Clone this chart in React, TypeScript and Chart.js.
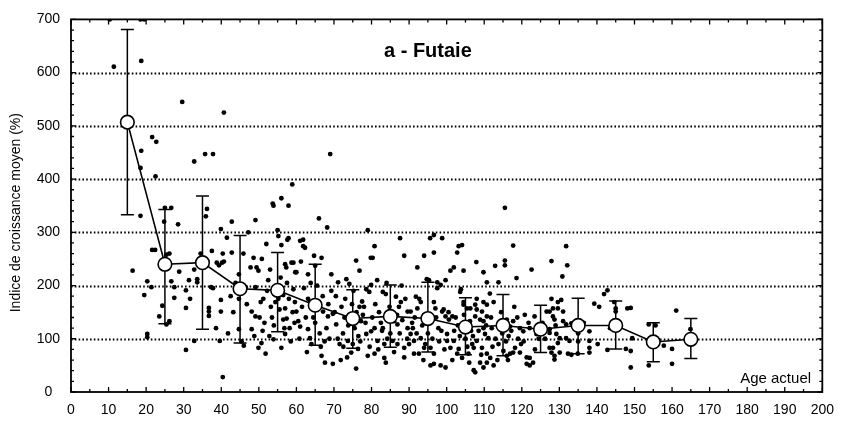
import React, { useEffect, useRef } from "react";
import { Chart, registerables } from "chart.js";

Chart.register(...registerables);

// ---- data ----
const meanAges = [15, 25, 35, 45, 55, 65, 75, 85, 95, 105, 115, 125, 135, 145, 155, 165];
const meanValues = [507, 240, 243, 194, 191, 163, 138, 142, 138, 122, 125, 118, 125, 125, 94, 99];
const errHigh = [681, 343, 368, 294, 262, 240, 192, 201, 206, 177, 183, 163, 176, 171, 130, 138];
const errLow = [333, 128, 118, 92, 113, 88, 82, 84, 75, 70, 68, 74, 72, 81, 57, 63];

const yGridValues = [100, 200, 300, 400, 500, 600];

const chartTitle = "a - Futaie";
const xAxisLabel = "Age actuel";
const yAxisLabel = "Indice de croissance moyen (%)";

const scatterPoints: [number, number][] = [
  // 10-20
  [10.3, 700], [11.4, 611], [18.5, 700], [19.5, 700], [18.7, 622], [18.7, 453], [18.5, 421], [18.5, 331], [16.4, 228], [19.5, 182],
  // 20-30
  [20.3, 208], [21.4, 197], [20.3, 109], [20.3, 103], [21.6, 479], [22.7, 470], [22.5, 405], [21.6, 267], [22.4, 267], [23.5, 142],
  [24.3, 162], [25.4, 258], [26.2, 260], [25.4, 127], [26.2, 133], [25.0, 346], [26.7, 346], [26.7, 208], [27.5, 197], [27.5, 177],
  [28.5, 315], [29.6, 545], [24.8, 320], [28.8, 226],
  // 30-40
  [30.6, 191], [30.6, 158], [30.6, 79], [31.4, 210], [31.7, 175], [32.8, 230], [32.8, 96], [32.8, 433], [33.6, 212], [33.6, 206],
  [35.7, 447], [37.8, 447], [36.2, 344], [35.9, 330], [36.7, 158], [36.7, 151], [36.7, 143], [37.3, 197], [37.8, 195], [37.5, 265],
  [38.6, 120], [39.6, 96], [39.9, 173], [39.9, 151], [39.9, 306], [38.8, 243], [39.4, 238], [34.5, 260],
  // 40-50
  [40.4, 260], [40.2, 243], [40.7, 245], [40.4, 28], [40.7, 525], [42.8, 320], [42.8, 262], [44.7, 221], [44.7, 175], [44.7, 118],
  [46.0, 87], [45.4, 95], [46.5, 197], [47.8, 234], [48.6, 252], [49.4, 234], [49.9, 228], [49.1, 323], [49.1, 197], [48.1, 151],
  [49.1, 142], [48.1, 118], [49.9, 83], [41.5, 290], [42.5, 180], [43.2, 150], [41.8, 110], [47.2, 300], [46.8, 165], [43.8, 205],
  [48.8, 105], [45.9, 260],
  // 50-60
  [50.5, 169], [50.7, 92], [51.8, 72], [52.0, 278], [53.7, 354], [53.9, 350], [55.0, 304], [56.0, 364], [57.9, 350], [58.9, 390],
  [56.0, 276], [57.9, 289], [55.2, 293], [57.6, 286], [58.7, 243], [57.0, 240], [57.3, 234], [59.2, 243], [59.7, 225], [54.4, 169],
  [53.9, 99], [56.0, 83], [57.0, 109], [56.5, 136], [59.2, 193], [55.2, 175], [56.5, 182], [57.0, 157], [57.4, 138], [59.6, 169],
  [50.8, 250], [52.5, 210], [53.5, 140], [51.5, 130], [54.8, 200], [58.2, 120], [52.2, 190], [55.8, 215], [59.0, 150], [53.2, 160],
  [58.5, 95], [51.0, 115], [50.2, 140], [51.2, 175], [52.8, 105], [54.0, 125], [55.5, 155], [56.8, 120], [58.0, 175], [59.5, 130],
  [53.0, 230], [57.5, 205],
  // 60-70
  [60.0, 225], [60.0, 151], [60.5, 133], [61.0, 123], [61.0, 284], [61.8, 286], [62.3, 271], [61.8, 274], [63.1, 221], [63.1, 175],
  [63.6, 169], [63.1, 118], [63.6, 101], [64.0, 90], [64.7, 256], [65.0, 237], [66.7, 252], [66.0, 326], [68.2, 309], [67.1, 151],
  [68.4, 142], [69.7, 147], [68.0, 120], [66.7, 68], [67.6, 55], [69.7, 53], [69.0, 447], [69.3, 221], [62.0, 195], [65.5, 200],
  [67.0, 180], [64.5, 140], [61.5, 160], [68.8, 100], [66.2, 110], [62.8, 75], [69.3, 190], [65.0, 130], [60.8, 100], [62.5, 140],
  [63.8, 205], [65.8, 160], [67.5, 95], [68.5, 165], [61.2, 245], [66.5, 85],
  // 70-80
  [70.6, 127], [71.1, 206], [72.4, 110], [73.3, 212], [74.1, 203], [73.7, 96], [75.0, 90], [74.6, 74], [76.4, 81], [75.9, 44],
  [75.9, 247], [76.8, 228], [77.2, 133], [77.7, 145], [78.6, 109], [79.9, 114], [79.0, 68], [78.6, 193], [79.4, 188], [79.9, 201],
  [79.0, 304], [79.8, 252], [72.0, 160], [73.0, 175], [74.8, 165], [76.0, 150], [77.5, 170], [71.5, 90], [72.8, 140], [75.5, 120],
  [78.0, 160], [70.5, 180], [76.5, 105], [73.8, 125], [71.8, 60], [77.0, 95], [70.2, 150], [71.0, 100], [72.5, 85], [74.0, 145],
  [75.2, 190], [76.8, 160], [78.4, 130], [79.5, 85], [73.5, 65],
  // 80-90
  [80.8, 274], [80.3, 252], [80.8, 120], [80.8, 72], [81.6, 96], [83.4, 90], [83.4, 64], [83.8, 55], [83.0, 188], [83.8, 184],
  [85.6, 96], [86.5, 179], [86.0, 133], [86.9, 127], [86.9, 90], [87.3, 160], [87.8, 169], [87.6, 289], [88.7, 256], [88.7, 83],
  [88.7, 65], [89.6, 151], [89.6, 120], [82.0, 150], [81.5, 210], [84.5, 140], [85.0, 110], [82.5, 130], [84.0, 205], [86.0, 75],
  [81.0, 165], [88.0, 200], [84.8, 160], [87.5, 110], [82.8, 115], [89.5, 100], [80.2, 140], [81.8, 80], [83.0, 120], [84.2, 100],
  [85.5, 150], [86.8, 145], [88.2, 135], [89.0, 175],
  // 90-100
  [90.4, 151], [90.4, 109], [91.3, 96], [91.3, 72], [91.8, 179], [92.2, 234], [92.2, 157], [92.6, 72], [92.7, 175], [93.1, 169],
  [93.1, 101], [94.0, 256], [94.0, 145], [94.0, 83], [94.3, 90], [94.7, 212], [95.3, 210], [95.6, 289], [95.7, 83], [95.7, 50],
  [96.6, 295], [96.6, 262], [96.6, 169], [96.6, 72], [96.6, 53], [97.0, 157], [97.5, 195], [97.5, 206], [98.4, 201], [98.4, 50],
  [98.8, 289], [98.8, 151], [99.2, 155], [99.7, 142], [99.7, 46], [99.7, 210], [90.8, 130], [93.5, 125], [97.8, 120], [95.0, 110],
  [91.5, 140], [98.0, 95], [90.0, 90], [91.0, 120], [92.0, 110], [93.8, 60], [95.2, 135], [96.2, 100], [97.2, 140], [98.6, 115],
  [99.4, 80],
  // 100-110
  [100.1, 109], [100.1, 96], [100.6, 136], [101.0, 228], [101.0, 83], [101.5, 142], [101.9, 234], [101.9, 96], [102.8, 262], [102.8, 72],
  [103.2, 274], [103.2, 81], [103.6, 188], [103.8, 193], [104.1, 276], [104.1, 64], [104.5, 228], [104.5, 169], [104.5, 164], [104.6, 145],
  [105.4, 157], [105.8, 72], [106.2, 133], [106.3, 157], [107.2, 83], [107.2, 41], [107.6, 164], [107.6, 142], [107.6, 37], [107.9, 244],
  [108.0, 155], [108.0, 175], [108.0, 96], [108.9, 136], [108.9, 55], [109.4, 151], [109.4, 83], [109.8, 133], [109.8, 120], [109.8, 169],
  [109.8, 46], [109.8, 225], [102.0, 115], [105.0, 100], [106.5, 115], [103.0, 125], [101.5, 60], [106.8, 90], [100.5, 150], [102.4, 140],
  [103.5, 105], [104.8, 120], [105.5, 85], [106.0, 55], [107.0, 105], [108.5, 115], [109.2, 70],
  // 110-120
  [110.2, 109], [110.7, 55], [110.7, 142], [110.7, 164], [110.7, 72], [110.7, 206], [111.1, 101], [111.6, 64], [112.5, 169], [112.5, 50],
  [112.9, 237], [113.8, 206], [113.8, 90], [115.1, 77], [115.5, 247], [115.5, 238], [115.5, 346], [116.0, 68], [116.0, 136], [116.3, 60],
  [116.9, 123], [116.9, 72], [117.7, 133], [117.7, 74], [117.7, 275], [118.2, 83], [118.6, 214], [119.5, 120], [119.5, 74], [112.0, 120],
  [113.0, 100], [114.5, 150], [111.5, 185], [118.0, 160], [114.0, 130], [119.0, 100], [112.2, 85], [116.5, 105], [110.5, 125], [111.8, 140],
  [113.5, 60], [114.8, 110], [115.8, 95], [117.2, 115], [118.8, 140], [119.8, 90],
  // 120-130
  [120.4, 114], [120.8, 145], [121.3, 65], [121.3, 53], [122.1, 120], [122.1, 64], [122.1, 50], [122.6, 230], [123.0, 55], [123.4, 142],
  [123.9, 109], [126.6, 151], [127.4, 151], [127.4, 111], [127.4, 83], [127.4, 118], [127.9, 175], [127.9, 246], [127.9, 74], [128.3, 157],
  [128.3, 142], [128.3, 83], [128.7, 136], [128.7, 68], [128.7, 61], [129.2, 109], [129.6, 157], [129.6, 92], [129.6, 169], [124.5, 100],
  [125.5, 130], [120.5, 95], [121.8, 130], [123.5, 80], [124.8, 120], [126.2, 100], [129.0, 125],
  // 130-140
  [130.1, 101], [130.1, 74], [130.5, 173], [130.8, 217], [131.0, 151], [131.0, 133], [131.8, 127], [131.8, 274], [131.8, 101], [132.1, 238],
  [132.3, 72], [132.7, 96], [133.2, 129], [133.2, 70], [134.9, 72], [135.0, 110], [135.0, 95], [138.0, 114], [138.0, 96], [138.0, 83],
  [138.0, 74], [139.3, 166], [136.5, 130],
  // 140-150
  [140.2, 90], [140.6, 160], [141.9, 184], [142.8, 191], [142.8, 79], [144.6, 169], [145.0, 157], [145.0, 151], [147.7, 81], [148.1, 157],
  [149.0, 158], [149.0, 77], [149.0, 46], [149.4, 101], [145.0, 135], [143.5, 120],
  // 150-170
  [153.8, 127], [155.6, 125], [153.8, 50], [157.8, 87], [160.0, 81], [160.0, 53], [161.1, 153], [164.9, 118],
];

const FONT = '"Liberation Sans", Arial, Helvetica, sans-serif';
const INK = "#000";

const framePlugin = {
  id: "frameAndDecor",
  beforeDatasetsDraw(chart: any) {
    const { ctx, chartArea: a, scales } = chart;
    const x = scales.x;
    const y = scales.y;
    ctx.save();
    // dotted horizontal grid
    ctx.strokeStyle = INK;
    ctx.lineWidth = 1.8;
    ctx.lineCap = "butt";
    ctx.setLineDash([1.6, 2.2]);
    for (const v of yGridValues) {
      const py = Math.round(y.getPixelForValue(v)) + 0.5;
      ctx.beginPath();
      ctx.moveTo(a.left, py);
      ctx.lineTo(a.right, py);
      ctx.stroke();
    }
    ctx.setLineDash([]);
    // error bars
    ctx.lineWidth = 1.5;
    ctx.beginPath();
    ctx.rect(a.left, a.top, a.right - a.left, a.bottom - a.top);
    ctx.clip();
    meanAges.forEach((age, i) => {
      const px = x.getPixelForValue(age);
      const top = y.getPixelForValue(errHigh[i]);
      const bot = y.getPixelForValue(errLow[i]);
      ctx.beginPath();
      ctx.moveTo(px, top);
      ctx.lineTo(px, bot);
      ctx.moveTo(px - 6.5, top);
      ctx.lineTo(px + 6.5, top);
      ctx.moveTo(px - 6.5, bot);
      ctx.lineTo(px + 6.5, bot);
      ctx.stroke();
    });
    ctx.restore();
  },
  afterDraw(chart: any) {
    const { ctx, chartArea: a, scales } = chart;
    const x = scales.x;
    const y = scales.y;
    ctx.save();
    ctx.strokeStyle = INK;
    // ticks
    ctx.lineWidth = 1.3;
    ctx.beginPath();
    for (let v = 0; v <= 200; v += 5) {
      const px = x.getPixelForValue(v);
      const len = v % 10 === 0 ? 5 : 3;
      ctx.moveTo(px, a.bottom);
      ctx.lineTo(px, a.bottom - len);
      ctx.moveTo(px, a.top);
      ctx.lineTo(px, a.top + len);
    }
    for (let v = 0; v <= 700; v += 20) {
      const py = y.getPixelForValue(v);
      const len = v % 100 === 0 ? 5 : 3;
      ctx.moveTo(a.left, py);
      ctx.lineTo(a.left + len, py);
      ctx.moveTo(a.right, py);
      ctx.lineTo(a.right - len, py);
    }
    ctx.stroke();
    // frame
    ctx.lineWidth = 1.8;
    ctx.strokeRect(a.left, a.top, a.right - a.left, a.bottom - a.top);
    // title inside plot
    ctx.fillStyle = INK;
    ctx.font = `bold 20px ${FONT}`;
    ctx.textAlign = "center";
    ctx.textBaseline = "alphabetic";
    ctx.fillText(chartTitle, x.getPixelForValue(95), y.getPixelForValue(630));
    // x axis label inside plot
    ctx.font = `15px ${FONT}`;
    ctx.textAlign = "right";
    ctx.fillText(xAxisLabel, x.getPixelForValue(197), y.getPixelForValue(17));
    // y axis label
    ctx.font = `14px ${FONT}`;
    ctx.textAlign = "center";
    ctx.textBaseline = "middle";
    ctx.translate(16, (a.top + a.bottom) / 2 + 7);
    ctx.rotate(-Math.PI / 2);
    ctx.fillText(yAxisLabel, 0, 0);
    ctx.restore();
  },
};

export default function App() {
  const ref = useRef<HTMLCanvasElement>(null);
  useEffect(() => {
    if (!ref.current) return;
    const chart = new Chart(ref.current, {
      type: "scatter",
      data: {
        datasets: [
          {
            label: "Moyenne",
            data: meanAges.map((a, i) => ({ x: a, y: meanValues[i] })),
            showLine: true,
            borderColor: "#000",
            borderWidth: 1.6,
            pointRadius: 6.8,
            pointBackgroundColor: "#fff",
            pointBorderColor: "#000",
            pointBorderWidth: 1.6,
          } as any,
          {
            label: "Arbres",
            data: scatterPoints.map(([ax, v]) => ({ x: ax, y: v })),
            showLine: false,
            pointRadius: 2.4,
            pointBackgroundColor: "#000",
            pointBorderWidth: 0,
            backgroundColor: "#000",
            borderColor: "#000",
          } as any,
        ],
      },
      options: {
        responsive: false,
        animation: false,
        layout: { padding: { left: 0, right: 16, top: 12, bottom: 0 } },
        plugins: {
          legend: { display: false },
          tooltip: { enabled: false },
        },
        scales: {
          x: {
            type: "linear",
            min: 0,
            max: 200,
            grid: { display: false, drawTicks: false },
            border: { display: false },
            ticks: {
              stepSize: 10,
              autoSkip: false,
              maxRotation: 0,
              padding: 10,
              color: INK,
              font: { family: FONT, size: 14 },
            },
            afterFit: (s: any) => {
              s.height = 30;
            },
          },
          y: {
            type: "linear",
            min: 0,
            max: 700,
            grid: { display: false, drawTicks: false },
            border: { display: false },
            ticks: {
              stepSize: 100,
              crossAlign: "center",
              padding: 11,
              color: INK,
              font: { family: FONT, size: 14 },
            },
            afterFit: (s: any) => {
              s.width = 71;
            },
          },
        },
      },
      plugins: [framePlugin],
    });
    return () => chart.destroy();
  }, []);
  return (
    <div style={{ position: "fixed", left: 0, top: 0, width: 844, height: 422, background: "#fff" }}>
      <canvas ref={ref} width={844} height={422} />
    </div>
  );
}
